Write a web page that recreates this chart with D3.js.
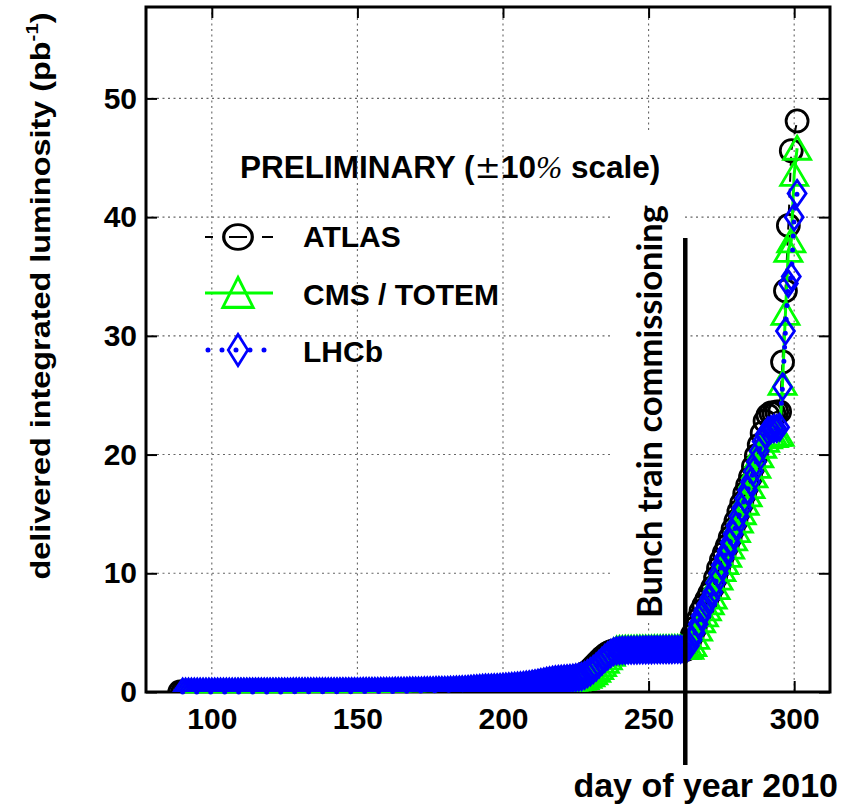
<!DOCTYPE html>
<html lang="en">
<head>
<meta charset="UTF-8">
<script src="https://d3js.org/d3.v7.min.js"></script>
<title>Delivered integrated luminosity 2010</title>
<style>
  body { margin: 0; background: #fff; }
  svg { display: block; }
  .lbl { font-family: "Liberation Sans", Arial, Helvetica, sans-serif; font-weight: bold; }
</style>
</head>
<body>
<svg id="chart" width="847" height="806"></svg>
<script>
// ---- data (day of year, pb^-1) ----
const xTicks = [100, 150, 200, 250, 300];
const yTicks = [0, 10, 20, 30, 40, 50];
const seriesNames = ["ATLAS", "CMS / TOTEM", "LHCb"];
const bunchTrainDay = 262.6;

const atlasFirstDay = 89;
const atlasLumi = [
  0, 0, 0, 0, 0, 0, 0, 0, 0, 0, 0,
  0, 0, 0, 0, 0, 0, 0, 0, 0.01, 0.01,
  0.01, 0.01, 0.01, 0.01, 0.01, 0.01, 0.01, 0.01, 0.01, 0.01,
  0.01, 0.01, 0.01, 0.01, 0.02, 0.02, 0.02, 0.02, 0.02, 0.02,
  0.02, 0.02, 0.02, 0.02, 0.02, 0.02, 0.02, 0.02, 0.02, 0.02,
  0.02, 0.02, 0.03, 0.03, 0.03, 0.03, 0.03, 0.03, 0.03, 0.04,
  0.04, 0.04, 0.04, 0.04, 0.05, 0.05, 0.05, 0.05, 0.05, 0.06,
  0.06, 0.06, 0.06, 0.07, 0.07, 0.07, 0.08, 0.08, 0.09, 0.09,
  0.10, 0.10, 0.11, 0.11, 0.12, 0.12, 0.13, 0.13, 0.14, 0.15,
  0.15, 0.16, 0.17, 0.18, 0.19, 0.20, 0.21, 0.23, 0.25, 0.27,
  0.29, 0.31, 0.33, 0.35, 0.36, 0.37, 0.38, 0.39, 0.40, 0.41,
  0.43, 0.45, 0.47, 0.49, 0.52, 0.55, 0.58, 0.61, 0.64, 0.68,
  0.72, 0.77, 0.82, 0.87, 0.92, 0.97, 1.02, 1.06, 1.09, 1.12,
  1.14, 1.16, 1.18, 1.20, 1.23, 1.27, 1.32, 1.40, 1.52, 1.70,
  1.90, 2.15, 2.40, 2.65, 2.90, 3.10, 3.28, 3.40, 3.46, 3.48,
  3.48, 3.49, 3.49, 3.50, 3.50, 3.50, 3.51, 3.51, 3.51, 3.52,
  3.52, 3.52, 3.52, 3.53, 3.53, 3.53, 3.53, 3.54, 3.54, 3.54,
  3.54, 3.55, 3.55, 3.60, 4.2, 4.8, 5.4, 6.1, 6.8, 7.3,
  7.8, 8.3, 8.8, 9.6, 10.4, 11.1, 11.7, 12.3, 13.0, 13.7,
  14.4, 15.2, 15.9, 16.7, 17.4, 18.1, 19.0, 19.9, 20.8, 21.8,
  22.8, 23.3, 23.5, 23.5, 23.6, 23.6, 27.8, 33.8, 39.3, 45.6,
  null, 48.1
];

const cmsFirstDay = 90;
const cmsLumi = [
  0, 0, 0, 0, 0, 0, 0, 0, 0, 0,
  0, 0, 0, 0, 0, 0, 0, 0, 0, 0.01,
  0.01, 0.01, 0.01, 0.01, 0.01, 0.01, 0.01, 0.01, 0.01, 0.01,
  0.01, 0.01, 0.01, 0.01, 0.01, 0.01, 0.01, 0.01, 0.02, 0.02,
  0.02, 0.02, 0.02, 0.02, 0.02, 0.02, 0.02, 0.02, 0.02, 0.02,
  0.02, 0.02, 0.02, 0.02, 0.03, 0.03, 0.03, 0.03, 0.03, 0.03,
  0.03, 0.03, 0.03, 0.04, 0.04, 0.04, 0.04, 0.04, 0.05, 0.05,
  0.05, 0.05, 0.05, 0.06, 0.06, 0.06, 0.07, 0.07, 0.07, 0.08,
  0.08, 0.08, 0.09, 0.09, 0.10, 0.10, 0.11, 0.11, 0.12, 0.12,
  0.13, 0.13, 0.14, 0.15, 0.16, 0.17, 0.18, 0.19, 0.20, 0.22,
  0.24, 0.26, 0.28, 0.30, 0.31, 0.32, 0.33, 0.34, 0.35, 0.36,
  0.37, 0.39, 0.41, 0.43, 0.45, 0.47, 0.49, 0.52, 0.55, 0.58,
  0.61, 0.65, 0.69, 0.73, 0.77, 0.82, 0.86, 0.90, 0.94, 0.97,
  0.99, 1.01, 1.03, 1.05, 1.07, 1.09, 1.12, 1.16, 1.22, 1.32,
  1.45, 1.62, 1.82, 2.05, 2.30, 2.58, 2.88, 3.18, 3.45, 3.62,
  3.66, 3.67, 3.68, 3.68, 3.69, 3.69, 3.70, 3.70, 3.70, 3.71,
  3.71, 3.71, 3.72, 3.72, 3.72, 3.73, 3.73, 3.73, 3.74, 3.74,
  3.74, 3.74, 3.75, 3.76, 3.77, 4.0, 4.6, 5.3, 6.0, 6.5,
  7.0, 7.5, 8.0, 8.8, 9.6, 10.3, 10.9, 11.5, 12.2, 12.9,
  13.6, 14.4, 15.1, 15.9, 16.6, 17.3, 18.2, 19.0, 19.9, 20.7,
  21.2, 21.5, 21.6, 21.6, 21.7, 21.7, 26.0, 31.9, 37.2, 38.0,
  43.6, 45.8
];

const lhcbFirstDay = 90;
const lhcbLumi = [
  0, 0, 0, 0, 0, 0, 0, 0, 0, 0,
  0, 0, 0, 0, 0, 0, 0, 0, 0, 0.01,
  0.01, 0.01, 0.01, 0.01, 0.01, 0.01, 0.01, 0.01, 0.01, 0.01,
  0.01, 0.01, 0.01, 0.01, 0.01, 0.01, 0.01, 0.01, 0.02, 0.02,
  0.02, 0.02, 0.02, 0.02, 0.02, 0.02, 0.02, 0.02, 0.02, 0.02,
  0.02, 0.02, 0.02, 0.02, 0.03, 0.03, 0.03, 0.03, 0.03, 0.03,
  0.03, 0.03, 0.04, 0.04, 0.04, 0.04, 0.04, 0.04, 0.05, 0.05,
  0.05, 0.05, 0.05, 0.06, 0.06, 0.06, 0.07, 0.07, 0.08, 0.08,
  0.08, 0.09, 0.09, 0.10, 0.10, 0.11, 0.11, 0.12, 0.12, 0.13,
  0.13, 0.14, 0.15, 0.16, 0.17, 0.18, 0.19, 0.20, 0.22, 0.24,
  0.26, 0.28, 0.30, 0.32, 0.33, 0.34, 0.35, 0.36, 0.37, 0.38,
  0.40, 0.42, 0.44, 0.46, 0.48, 0.50, 0.53, 0.56, 0.59, 0.62,
  0.66, 0.70, 0.75, 0.80, 0.85, 0.90, 0.95, 1.00, 1.03, 1.06,
  1.08, 1.10, 1.12, 1.14, 1.16, 1.20, 1.25, 1.30, 1.40, 1.55,
  1.70, 1.90, 2.10, 2.35, 2.60, 2.85, 3.05, 3.25, 3.40, 3.48,
  3.50, 3.51, 3.52, 3.53, 3.53, 3.54, 3.54, 3.55, 3.55, 3.56,
  3.56, 3.56, 3.57, 3.57, 3.57, 3.58, 3.58, 3.58, 3.58, 3.59,
  3.59, 3.59, 3.60, 3.63, 3.9, 4.4, 5.0, 5.7, 6.4, 6.9,
  7.4, 7.9, 8.4, 9.2, 10.0, 10.7, 11.3, 11.9, 12.6, 13.3,
  14.0, 14.8, 15.5, 16.3, 17.0, 17.7, 18.6, 19.4, 20.3, 21.1,
  21.7, 22.0, 22.1, 22.2, 22.2, 22.3, 25.7, 30.4, 34.4, 35.0,
  40.0, 42.0
];

// ---- layout ----
const svg = d3.select("#chart");
svg.append("rect").attr("width", 847).attr("height", 806).attr("fill", "#fff");

const x = d3.scaleLinear().domain([77.4, 312.3]).range([146, 830]);
const y = d3.scaleLinear().domain([0, 57.7]).range([692, 7]);
const [x0, x1] = x.range();
const [yb, yt] = y.range();

function toPoints(first, vals) {
  return vals.map((v, i) => ({day: first + i, v: v})).filter(d => d.v !== null);
}

const series = [
  {name: seriesNames[0], pts: toPoints(atlasFirstDay, atlasLumi), color: "#000", marker: "circle", dash: "9 7", lw: 2},
  {name: seriesNames[1], pts: toPoints(cmsFirstDay, cmsLumi), color: "#00ff00", marker: "triangle", dash: null, lw: 3},
  {name: seriesNames[2], pts: toPoints(lhcbFirstDay, lhcbLumi), color: "#0000ff", marker: "diamond", dash: "0 14", lw: 5}
];

function markerPath(kind) {
  if (kind === "circle") {
    const p = d3.path(); p.arc(0, 0, 11, 0, 2 * Math.PI); return p.toString();
  }
  if (kind === "triangle") return "M0,-12L13.5,11L-13.5,11Z";
  return "M0,-13L9,0L0,13L-9,0Z";
}

const defs = svg.append("defs");
defs.append("clipPath").attr("id", "clipM").append("rect")
  .attr("x", x0).attr("y", yt).attr("width", x1 - x0).attr("height", yb - yt);
defs.append("clipPath").attr("id", "clipL").append("rect")
  .attr("x", x0).attr("y", yt).attr("width", x1 - x0).attr("height", yb - yt + 4);

// grid
const grid = svg.append("g").attr("stroke", "#666").attr("stroke-width", 1.1).attr("stroke-dasharray", "2 3.5");
grid.selectAll(".gx").data(xTicks).join("line")
  .attr("x1", d => x(d)).attr("x2", d => x(d)).attr("y1", yt).attr("y2", yb);
grid.selectAll(".gy").data(yTicks.filter(d => d > 0)).join("line")
  .attr("x1", x0).attr("x2", x1).attr("y1", d => y(d)).attr("y2", d => y(d));

// white pave behind the annotation text
svg.append("rect").attr("x", 613).attr("y", 133).attr("width", 70).attr("height", 487).attr("fill", "#fff");

// frame
svg.append("rect").attr("x", x0).attr("y", yt).attr("width", x1 - x0).attr("height", yb - yt)
  .attr("fill", "none").attr("stroke", "#000").attr("stroke-width", 3);

// ticks and labels
const axisFont = g => g.attr("font-family", null).attr("font-size", null)
  .call(g => g.select(".domain").remove())
  .call(g => g.selectAll("line").attr("stroke-width", 2))
  .call(g => g.selectAll("text").attr("class", "lbl").attr("font-size", 30));

svg.append("g").attr("transform", `translate(0,${yb})`)
  .call(d3.axisBottom(x).tickValues(xTicks).tickSize(-11).tickPadding(16).tickFormat(d3.format("d")))
  .call(axisFont);
svg.append("g").attr("transform", `translate(0,${yt})`)
  .call(d3.axisTop(x).tickValues(xTicks).tickSize(-11).tickFormat(""))
  .call(axisFont);
svg.append("g").attr("transform", `translate(${x0},0)`)
  .call(d3.axisLeft(y).tickValues(yTicks).tickSize(-11).tickPadding(9).tickFormat(d3.format("d")))
  .call(axisFont);
svg.append("g").attr("transform", `translate(${x1},0)`)
  .call(d3.axisRight(y).tickValues(yTicks).tickSize(-11).tickFormat(""))
  .call(axisFont);

// data
const line = d3.line().x(d => x(d.day)).y(d => y(d.v));
series.forEach(s => {
  svg.append("path").datum(s.pts)
    .attr("clip-path", "url(#clipL)")
    .attr("d", line).attr("fill", "none")
    .attr("stroke", s.color).attr("stroke-width", s.lw)
    .attr("stroke-linecap", s.dash === "0 14" ? "round" : "butt")
    .attr("stroke-dasharray", s.dash);
  svg.append("g").attr("clip-path", "url(#clipM)")
    .selectAll("path").data(s.pts).join("path")
    .attr("transform", d => `translate(${x(d.day)},${y(d.v)})`)
    .attr("d", markerPath(s.marker))
    .attr("fill", "none").attr("stroke", s.color).attr("stroke-width", 2.8);
});

// bunch train commissioning marker
svg.append("line").attr("x1", x(bunchTrainDay)).attr("x2", x(bunchTrainDay))
  .attr("y1", 238).attr("y2", 765).attr("stroke", "#000").attr("stroke-width", 4.5);
svg.append("text")
  .attr("transform", "translate(662,618) rotate(-90)")
  .attr("font-family", "Lato, 'Open Sans', sans-serif").attr("font-weight", "bold")
  .attr("font-size", 34).attr("textLength", 413).attr("lengthAdjust", "spacingAndGlyphs")
  .text("Bunch train commissioning");

// legend
const leg = svg.append("g");
const title = leg.append("text").attr("class", "lbl").attr("x", 240).attr("y", 178).attr("font-size", 31.5);
title.append("tspan").text("PRELIMINARY (");
title.append("tspan").attr("font-family", "'DejaVu Serif', serif").attr("font-weight", "normal").text("\u00b1");
title.append("tspan").text("10");
title.append("tspan").attr("font-family", "'Liberation Serif', serif").attr("font-weight", "normal").attr("font-style", "italic").text("%");
title.append("tspan").text(" scale)");

const legY = [237, 293, 350];
const legBase = [247, 305, 362];
const legScale = {circle: "1.3,1.12", triangle: "1.12,1.3", diamond: "1.08,1.2"};
series.forEach((s, i) => {
  leg.append("line").attr("x1", s.dash === "0 14" ? 208 : 205).attr("x2", 273)
    .attr("y1", legY[i]).attr("y2", legY[i])
    .attr("stroke", s.color).attr("stroke-width", s.lw)
    .attr("stroke-linecap", s.dash === "0 14" ? "round" : "butt")
    .attr("stroke-dasharray", s.dash === "9 7" ? "8 16 18 15 11" : s.dash);
  leg.append("path").attr("transform", `translate(238,${legY[i]}) scale(${legScale[s.marker]})`)
    .attr("d", markerPath(s.marker)).attr("fill", "none")
    .attr("stroke", s.color).attr("stroke-width", 2.5);
  leg.append("text").attr("class", "lbl").attr("x", 303).attr("y", legBase[i]).attr("font-size", 30).text(s.name);
});

// axis titles
svg.append("text").attr("class", "lbl").attr("x", 838).attr("y", 797)
  .attr("text-anchor", "end").attr("font-size", 34).text("day of year 2010");
const yt1 = svg.append("text").attr("class", "lbl")
  .attr("transform", "translate(50,296) rotate(-90) scale(1.2,1)")
  .attr("text-anchor", "middle").attr("font-size", 27);
yt1.append("tspan").text("delivered integrated luminosity (pb");
yt1.append("tspan").attr("font-size", 17).attr("dy", -12).text("-1");
yt1.append("tspan").attr("dy", 12).text(")");
</script>
</body>
</html>
